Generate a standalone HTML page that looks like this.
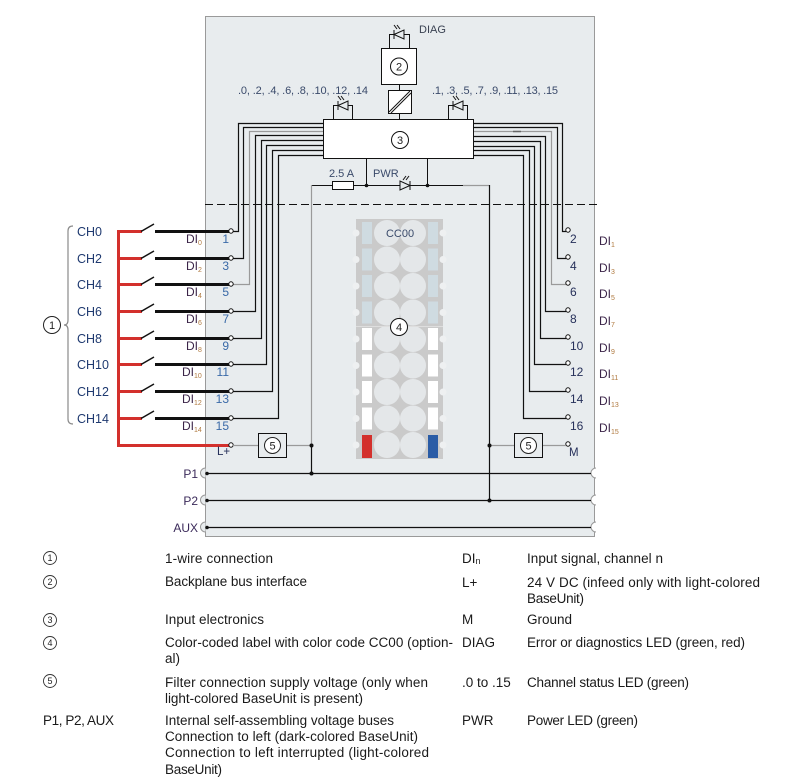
<!DOCTYPE html>
<html><head><meta charset="utf-8">
<style>
html,body{margin:0;padding:0;background:#fff;}
svg{display:block;font-family:"Liberation Sans",sans-serif;}
</style></head><body>
<svg width="790" height="784" viewBox="0 0 790 784" xmlns="http://www.w3.org/2000/svg">
<!-- module body -->
<rect x="205.5" y="16.5" width="389" height="520" fill="#e8ecee" stroke="#9a9a9a"/>

<!-- DIAG -->
<path d="M389.5 48 V34.5 H409.5 V48" fill="none" stroke="#111"/>
<g stroke="#111" fill="#e8ecee" stroke-width="1">
<polygon points="394,34.5 404,30 404,39"/>
<line x1="394" y1="30" x2="394" y2="39"/>
<line x1="397" y1="29" x2="394" y2="25"/><line x1="400" y1="29" x2="397" y2="25"/>
</g>
<text x="419" y="33" font-size="11" fill="#3a4252">DIAG</text>
<rect x="381.5" y="48.5" width="35" height="36" fill="#fff" stroke="#111"/>
<circle cx="399" cy="66.5" r="8.5" fill="#fff" stroke="#111"/>
<text x="399" y="70.5" font-size="11" text-anchor="middle" fill="#222">2</text>
<line x1="399.5" y1="84" x2="399.5" y2="90" stroke="#111"/>
<rect x="388.5" y="90.5" width="23" height="23" fill="#fff" stroke="#111"/>
<line x1="389" y1="112" x2="410" y2="91" stroke="#111"/>
<line x1="391" y1="113" x2="411" y2="93" stroke="#111"/>
<line x1="399.5" y1="113" x2="399.5" y2="119" stroke="#111"/>

<!-- channel LEDs -->
<path d="M333.5 119 V105.5 H352.5 V119" fill="none" stroke="#111"/>
<path d="M448.5 119 V105.5 H467.5 V119" fill="none" stroke="#111"/>
<g stroke="#111" fill="#e8ecee">
<polygon points="338,105.5 348,101 348,110"/><line x1="338" y1="101" x2="338" y2="110"/>
<line x1="341" y1="100" x2="338" y2="96"/><line x1="344" y1="100" x2="341" y2="96"/>
<polygon points="453,105.5 463,101 463,110"/><line x1="453" y1="101" x2="453" y2="110"/>
<line x1="456" y1="100" x2="453" y2="96"/><line x1="459" y1="100" x2="456" y2="96"/>
</g>
<text x="238" y="94" font-size="11" textLength="130" fill="#3a4a6a">.0, .2, .4, .6, .8, .10, .12, .14</text>
<text x="432" y="94" font-size="11" textLength="126" fill="#3a4a6a">.1, .3, .5, .7, .9, .11, .13, .15</text>

<!-- left bundle -->
<g fill="none" stroke="#111" stroke-width="1.2">
<path d="M323 123.5 H238.5 V231.5 H233"/>
<path d="M323 127.5 H243.5 V258.5 H233"/>
<path d="M323 131.5 H249.5 V284.5 H233" stroke="#9a9a9a"/>
<path d="M323 135.5 H255.5 V311.5 H233"/>
<path d="M323 140.5 H261.5 V338.5 H233"/>
<path d="M323 145.5 H266.5 V364.5 H233"/>
<path d="M323 150.5 H272.5 V391.5 H233"/>
<path d="M323 155.5 H278.5 V418.5 H233"/>
</g>
<!-- right bundle -->
<g fill="none" stroke="#111" stroke-width="1.2">
<path d="M473 123.5 H562.5 V231.5 H566"/>
<path d="M473 127.5 H557.5 V258.5 H566"/>
<path d="M473 131.5 H551.5 V284.5 H566" stroke="#9a9a9a"/>
<path d="M473 136.5 H545.5 V311.5 H566"/>
<path d="M473 141.5 H540.5 V338.5 H566"/>
<path d="M473 146.5 H534.5 V364.5 H566"/>
<path d="M473 150.5 H529.5 V391.5 H566"/>
<path d="M473 155.5 H523.5 V418.5 H566"/>
</g>
<line x1="513" y1="131.5" x2="521" y2="131.5" stroke="#666" stroke-width="1.5"/>

<!-- box 3 -->
<rect x="323.5" y="119.5" width="150" height="39" fill="#fff" stroke="#111"/>
<circle cx="400" cy="140" r="8.5" fill="#fff" stroke="#111"/>
<text x="400" y="144" font-size="11" text-anchor="middle" fill="#222">3</text>

<!-- supply line -->
<line x1="366.5" y1="158" x2="366.5" y2="185" stroke="#111"/>
<line x1="427.5" y1="158" x2="427.5" y2="185" stroke="#111"/>
<line x1="311" y1="185.5" x2="463" y2="185.5" stroke="#111"/>
<line x1="463" y1="185.5" x2="489" y2="185.5" stroke="#9a9a9a" stroke-width="1.2"/>
<rect x="332.5" y="181.5" width="21" height="8" fill="#fff" stroke="#111"/>
<g stroke="#111" fill="#e8ecee">
<polygon points="400,181 400,190 410,185.5"/><line x1="410" y1="181" x2="410" y2="190"/>
<line x1="406" y1="180" x2="409" y2="176"/><line x1="403" y1="180" x2="406" y2="176"/>
</g>
<circle cx="366.5" cy="185.5" r="1.8" fill="#111"/>
<circle cx="427.5" cy="185.5" r="1.8" fill="#111"/>
<text x="329" y="177" font-size="11" fill="#3a4a6a">2.5 A</text>
<text x="373" y="177" font-size="11" fill="#3a4a6a">PWR</text>
<line x1="311.5" y1="185" x2="311.5" y2="445" stroke="#9a9a9a" stroke-width="1.2"/>
<line x1="311.5" y1="445" x2="311.5" y2="473" stroke="#111" stroke-width="1.2"/>
<line x1="489.5" y1="185" x2="489.5" y2="500" stroke="#111" stroke-width="1.2"/>

<!-- dashed -->
<line x1="205" y1="204.5" x2="597" y2="204.5" stroke="#111" stroke-dasharray="8 4"/>

<!-- color label -->
<rect x="356" y="219" width="87" height="240" fill="#cacaca"/>
<g>
<g fill="#cfdbe1">
<rect x="362" y="222" width="10" height="22"/><rect x="428" y="222" width="10" height="22"/>
<rect x="362" y="248.5" width="10" height="22"/><rect x="428" y="248.5" width="10" height="22"/>
<rect x="362" y="275" width="10" height="22"/><rect x="428" y="275" width="10" height="22"/>
<rect x="362" y="301.5" width="10" height="22"/><rect x="428" y="301.5" width="10" height="22"/>
</g>
<g fill="#ffffff">
<rect x="362" y="328" width="10" height="22"/><rect x="428" y="328" width="10" height="22"/>
<rect x="362" y="354.5" width="10" height="22"/><rect x="428" y="354.5" width="10" height="22"/>
<rect x="362" y="381" width="10" height="22"/><rect x="428" y="381" width="10" height="22"/>
<rect x="362" y="407.5" width="10" height="22"/><rect x="428" y="407.5" width="10" height="22"/>
</g>
<rect x="362" y="435" width="10" height="23" fill="#d3302c"/>
<rect x="428" y="435" width="10" height="23" fill="#2a5ca6"/>
<g fill="#e4e7e9">
<circle cx="387" cy="233" r="13"/><circle cx="413" cy="233" r="13"/>
<circle cx="387" cy="259.5" r="13"/><circle cx="413" cy="259.5" r="13"/>
<circle cx="387" cy="286" r="13"/><circle cx="413" cy="286" r="13"/>
<circle cx="387" cy="312.5" r="13"/><circle cx="413" cy="312.5" r="13"/>
<circle cx="387" cy="339" r="13"/><circle cx="413" cy="339" r="13"/>
<circle cx="387" cy="365.5" r="13"/><circle cx="413" cy="365.5" r="13"/>
<circle cx="387" cy="392" r="13"/><circle cx="413" cy="392" r="13"/>
<circle cx="387" cy="418.5" r="13"/><circle cx="413" cy="418.5" r="13"/>
<circle cx="387" cy="445" r="13"/><circle cx="413" cy="445" r="13"/>
</g>
<g fill="#eef0f1">
<circle cx="356" cy="233" r="3.5"/><circle cx="443" cy="233" r="3.5"/>
<circle cx="356" cy="259.5" r="3.5"/><circle cx="443" cy="259.5" r="3.5"/>
<circle cx="356" cy="286" r="3.5"/><circle cx="443" cy="286" r="3.5"/>
<circle cx="356" cy="312.5" r="3.5"/><circle cx="443" cy="312.5" r="3.5"/>
<circle cx="356" cy="339" r="3.5"/><circle cx="443" cy="339" r="3.5"/>
<circle cx="356" cy="365.5" r="3.5"/><circle cx="443" cy="365.5" r="3.5"/>
<circle cx="356" cy="392" r="3.5"/><circle cx="443" cy="392" r="3.5"/>
<circle cx="356" cy="418.5" r="3.5"/><circle cx="443" cy="418.5" r="3.5"/>
<circle cx="356" cy="445" r="3.5"/><circle cx="443" cy="445" r="3.5"/>
</g>
<line x1="356" y1="326.5" x2="443" y2="326.5" stroke="#dedede"/>
</g>
<text x="400" y="237" font-size="11" text-anchor="middle" fill="#3a4a6a">CC00</text>
<circle cx="399" cy="327" r="8.5" fill="#fff" stroke="#111"/>
<text x="399" y="331" font-size="11" text-anchor="middle" fill="#222">4</text>

<!-- external wiring -->
<g stroke="#d3302c" stroke-width="3" fill="none">
<path d="M142 231.5 H118.5 V445.5 H229"/>
<line x1="118" y1="258.5" x2="142" y2="258.5"/>
<line x1="118" y1="284.5" x2="142" y2="284.5"/>
<line x1="118" y1="311.5" x2="142" y2="311.5"/>
<line x1="118" y1="338.5" x2="142" y2="338.5"/>
<line x1="118" y1="364.5" x2="142" y2="364.5"/>
<line x1="118" y1="391.5" x2="142" y2="391.5"/>
<line x1="118" y1="418.5" x2="142" y2="418.5"/>
</g>
<g stroke="#111" stroke-width="1.5">
<line x1="141" y1="231.5" x2="154" y2="224"/>
<line x1="141" y1="258.5" x2="154" y2="251"/>
<line x1="141" y1="284.5" x2="154" y2="277"/>
<line x1="141" y1="311.5" x2="154" y2="304"/>
<line x1="141" y1="338.5" x2="154" y2="331"/>
<line x1="141" y1="364.5" x2="154" y2="357"/>
<line x1="141" y1="391.5" x2="154" y2="384"/>
<line x1="141" y1="418.5" x2="154" y2="411"/>
</g>
<g stroke="#111" stroke-width="3">
<line x1="155" y1="231.5" x2="229" y2="231.5"/>
<line x1="155" y1="258.5" x2="229" y2="258.5"/>
<line x1="155" y1="284.5" x2="229" y2="284.5"/>
<line x1="155" y1="311.5" x2="229" y2="311.5"/>
<line x1="155" y1="338.5" x2="229" y2="338.5"/>
<line x1="155" y1="364.5" x2="229" y2="364.5"/>
<line x1="155" y1="391.5" x2="229" y2="391.5"/>
<line x1="155" y1="418.5" x2="229" y2="418.5"/>
</g>
<!-- terminals -->
<g fill="#fff" stroke="#111" stroke-width="1">
<circle cx="231" cy="231" r="2.2"/><circle cx="231" cy="258" r="2.2"/><circle cx="231" cy="284" r="2.2"/><circle cx="231" cy="311" r="2.2"/>
<circle cx="231" cy="338" r="2.2"/><circle cx="231" cy="364" r="2.2"/><circle cx="231" cy="391" r="2.2"/><circle cx="231" cy="418" r="2.2"/><circle cx="231" cy="445" r="2.2"/>
<circle cx="568" cy="230" r="2.2"/><circle cx="568" cy="257" r="2.2"/><circle cx="568" cy="283" r="2.2"/><circle cx="568" cy="310" r="2.2"/>
<circle cx="568" cy="337" r="2.2"/><circle cx="568" cy="363" r="2.2"/><circle cx="568" cy="390" r="2.2"/><circle cx="568" cy="417" r="2.2"/><circle cx="568" cy="444" r="2.2"/>
</g>

<!-- CH labels -->
<g font-size="12.5" fill="#1f3a70">
<text x="77" y="236">CH0</text><text x="77" y="263">CH2</text><text x="77" y="289">CH4</text><text x="77" y="316">CH6</text>
<text x="77" y="343">CH8</text><text x="77" y="369">CH10</text><text x="77" y="396">CH12</text><text x="77" y="423">CH14</text>
</g>
<path d="M73 226 Q68 226 68 231 L68 320 Q68 325 64 325 Q68 325 68 330 L68 419 Q68 424 73 424" fill="none" stroke="#8a8a8a" stroke-width="1.2"/>
<circle cx="52" cy="325" r="8.5" fill="#fff" stroke="#222"/>
<text x="52" y="329" font-size="11" text-anchor="middle" fill="#222">1</text>

<!-- DI left -->
<g font-size="12" fill="#3b2448">
<text x="186" y="243">DI<tspan font-size="7" dy="2" fill="#b07a40">0</tspan></text>
<text x="186" y="270">DI<tspan font-size="7" dy="2" fill="#b07a40">2</tspan></text>
<text x="186" y="296">DI<tspan font-size="7" dy="2" fill="#b07a40">4</tspan></text>
<text x="186" y="323">DI<tspan font-size="7" dy="2" fill="#b07a40">6</tspan></text>
<text x="186" y="350">DI<tspan font-size="7" dy="2" fill="#b07a40">8</tspan></text>
<text x="182" y="376">DI<tspan font-size="7" dy="2" fill="#b07a40">10</tspan></text>
<text x="182" y="403">DI<tspan font-size="7" dy="2" fill="#b07a40">12</tspan></text>
<text x="182" y="430">DI<tspan font-size="7" dy="2" fill="#b07a40">14</tspan></text>
</g>
<g font-size="12" fill="#3a6aa8" text-anchor="end">
<text x="229" y="243">1</text><text x="229" y="270">3</text><text x="229" y="296">5</text><text x="229" y="323">7</text>
<text x="229" y="350">9</text><text x="229" y="376">11</text><text x="229" y="403">13</text><text x="229" y="430">15</text>
</g>
<text x="217" y="455" font-size="11.5" fill="#26305a">L+</text>

<!-- right labels -->
<g font-size="12" fill="#26305a">
<text x="570" y="243">2</text><text x="570" y="270">4</text><text x="570" y="296">6</text><text x="570" y="323">8</text>
<text x="570" y="350">10</text><text x="570" y="376">12</text><text x="570" y="403">14</text><text x="570" y="430">16</text>
<text x="569" y="456" font-size="11.5">M</text>
</g>
<g font-size="12" fill="#3b2448">
<text x="599" y="245">DI<tspan font-size="7" dy="2" fill="#b07a40">1</tspan></text>
<text x="599" y="272">DI<tspan font-size="7" dy="2" fill="#b07a40">3</tspan></text>
<text x="599" y="298">DI<tspan font-size="7" dy="2" fill="#b07a40">5</tspan></text>
<text x="599" y="325">DI<tspan font-size="7" dy="2" fill="#b07a40">7</tspan></text>
<text x="599" y="352">DI<tspan font-size="7" dy="2" fill="#b07a40">9</tspan></text>
<text x="599" y="378">DI<tspan font-size="7" dy="2" fill="#b07a40">11</tspan></text>
<text x="599" y="405">DI<tspan font-size="7" dy="2" fill="#b07a40">13</tspan></text>
<text x="599" y="432">DI<tspan font-size="7" dy="2" fill="#b07a40">15</tspan></text>
</g>

<!-- filter boxes -->
<line x1="233" y1="445.5" x2="258" y2="445.5" stroke="#9a9a9a" stroke-width="1.2"/>
<line x1="286" y1="445.5" x2="312" y2="445.5" stroke="#9a9a9a" stroke-width="1.2"/>
<rect x="258.5" y="433.5" width="28" height="24" fill="#e8ecee" stroke="#111"/>
<circle cx="272.5" cy="445.5" r="8" fill="#fff" stroke="#222"/>
<text x="272.5" y="449.5" font-size="11" text-anchor="middle" fill="#222">5</text>
<line x1="489" y1="445.5" x2="514" y2="445.5" stroke="#9a9a9a" stroke-width="1.2"/>
<line x1="542" y1="445.5" x2="566" y2="445.5" stroke="#9a9a9a" stroke-width="1.2"/>
<rect x="514.5" y="433.5" width="28" height="24" fill="#e8ecee" stroke="#111"/>
<circle cx="528.5" cy="445.5" r="8" fill="#fff" stroke="#222"/>
<text x="528.5" y="449.5" font-size="11" text-anchor="middle" fill="#222">5</text>
<circle cx="311.5" cy="445.5" r="2" fill="#111"/>
<circle cx="489.5" cy="445.5" r="2" fill="#111"/>

<!-- buses -->
<g>
<path d="M205.5 468 A5 5 0 0 0 205.5 478" fill="#e8ecee" stroke="#9a9a9a"/>
<path d="M205.5 495 A5 5 0 0 0 205.5 505" fill="#e8ecee" stroke="#9a9a9a"/>
<path d="M205.5 522 A5 5 0 0 0 205.5 532" fill="#e8ecee" stroke="#9a9a9a"/>
<path d="M596 468 A5 5 0 0 0 596 478 Z" fill="#fff"/>
<path d="M596 495 A5 5 0 0 0 596 505 Z" fill="#fff"/>
<path d="M596 522 A5 5 0 0 0 596 532 Z" fill="#fff"/>
<path d="M596 468 A5 5 0 0 0 596 478" fill="none" stroke="#9a9a9a"/>
<path d="M596 495 A5 5 0 0 0 596 505" fill="none" stroke="#9a9a9a"/>
<path d="M596 522 A5 5 0 0 0 596 532" fill="none" stroke="#9a9a9a"/>
<line x1="207" y1="473.5" x2="591" y2="473.5" stroke="#111" stroke-width="1.2"/>
<line x1="207" y1="500.5" x2="591" y2="500.5" stroke="#111" stroke-width="1.2"/>
<line x1="207" y1="527.5" x2="591" y2="527.5" stroke="#111" stroke-width="1.2"/>
<circle cx="207" cy="473.5" r="1.8" fill="#111"/>
<circle cx="207" cy="500.5" r="1.8" fill="#111"/>
<circle cx="207" cy="527.5" r="1.8" fill="#111"/>
<circle cx="311.5" cy="473.5" r="2" fill="#111"/>
<circle cx="489.5" cy="500.5" r="2" fill="#111"/>
</g>
<g font-size="12" fill="#3b2a5a" text-anchor="end">
<text x="198" y="478">P1</text><text x="198" y="505">P2</text><text x="198" y="532">AUX</text>
</g>

<!-- legend -->
<g fill="none" stroke="#333" stroke-width="0.9">
<circle cx="50" cy="558" r="6.5"/><circle cx="50" cy="582" r="6.5"/><circle cx="50" cy="620" r="6.5"/>
<circle cx="50" cy="643" r="6.5"/><circle cx="50" cy="681" r="6.5"/>
</g>
<g font-size="9" fill="#222" text-anchor="middle">
<text x="50" y="561">1</text><text x="50" y="585">2</text><text x="50" y="623">3</text><text x="50" y="646">4</text><text x="50" y="684">5</text>
</g>
<g font-size="13.5" fill="#1a1a1a">
<text x="43" y="725" textLength="71">P1, P2, AUX</text>
<text x="165" y="563" textLength="108">1-wire connection</text>
<text x="165" y="586" textLength="142">Backplane bus interface</text>
<text x="165" y="624" textLength="99">Input electronics</text>
<text x="165" y="647" textLength="288">Color-coded label with color code CC00 (option-</text>
<text x="165" y="663">al)</text>
<text x="165" y="687" textLength="263">Filter connection supply voltage (only when</text>
<text x="165" y="703" textLength="198">light-colored BaseUnit is present)</text>
<text x="165" y="725" textLength="229">Internal self-assembling voltage buses</text>
<text x="165" y="741" textLength="253">Connection to left (dark-colored BaseUnit)</text>
<text x="165" y="757" textLength="264">Connection to left interrupted (light-colored</text>
<text x="165" y="774" textLength="57">BaseUnit)</text>

<text x="462" y="563">DI<tspan font-size="9" dy="1">n</tspan></text>
<text x="462" y="587">L+</text>
<text x="462" y="624">M</text>
<text x="462" y="647">DIAG</text>
<text x="462" y="687">.0 to .15</text>
<text x="462" y="725">PWR</text>
<text x="527" y="563" textLength="136">Input signal, channel n</text>
<text x="527" y="587" textLength="233">24 V DC (infeed only with light-colored</text>
<text x="527" y="603" textLength="57">BaseUnit)</text>
<text x="527" y="624" textLength="45">Ground</text>
<text x="527" y="647" textLength="218">Error or diagnostics LED (green, red)</text>
<text x="527" y="687" textLength="162">Channel status LED (green)</text>
<text x="527" y="725" textLength="111">Power LED (green)</text>
</g>
</svg>
</body></html>
